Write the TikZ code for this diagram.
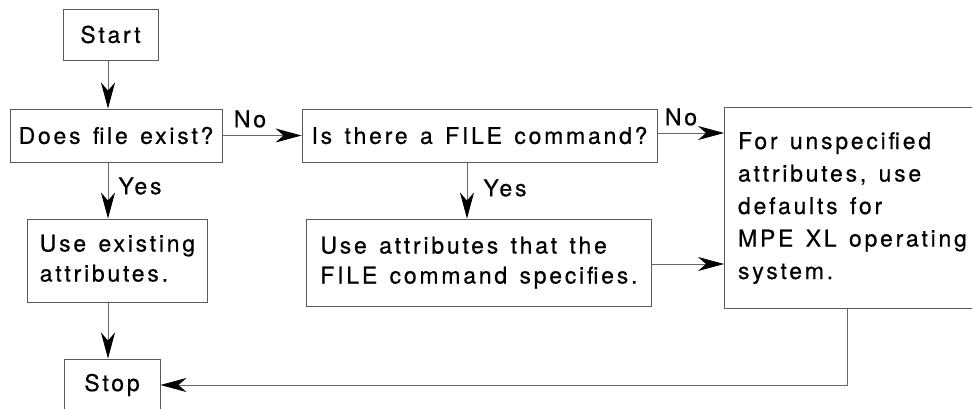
\documentclass[tikz,border=0pt]{standalone}
\usepackage{fontspec}
\setmainfont{TeX Gyre Heros}[LetterSpace=12,WordSpace=1.35,FakeBold=0.5]
\usetikzlibrary{arrows.meta,calc}
\newcommand{\mlines}[1]{\begin{tabular}{@{}l@{}}#1\end{tabular}}
\begin{document}
\begin{tikzpicture}[x=1pt,y=-1pt,
  box/.style={draw=black!65, line width=0.9pt, inner sep=0pt, font=\fontsize{23}{30}\selectfont},
  lbl/.style={inner sep=0pt, font=\fontsize{23}{25}\selectfont},
  conn/.style={draw=black!60, line width=0.8pt, -{Stealth[length=26pt,width=14pt,inset=8pt,black]}},
  plain/.style={draw=black!60, line width=0.8pt}]
\useasboundingbox (0,0) rectangle (972,408);
\node[box, minimum width=95pt, minimum height=51pt] (start) at (110.5,34.5) {Start};
\node[box, minimum width=212pt, minimum height=53pt] (does) at (116,135.5) {Does file exist?};
\node[box, minimum width=355pt, minimum height=53pt] (is) at (479.5,135.5) {Is there a FILE command?};
\node[box, minimum width=256pt, minimum height=201pt, inner xsep=13pt, anchor=west,
      font=\fontsize{23}{32.5}\selectfont] (right) at (724,207.5)
      {\mlines{For unspecified\\attributes, use\\defaults for\\MPE XL operating\\system.}\hspace{60pt}};
\node[box, minimum width=180pt, minimum height=83pt, inner xsep=11pt, anchor=west] (useex) at (27,260.5)
      {\mlines{Use existing\\attributes.}};
\node[box, minimum width=345pt, minimum height=87pt, inner xsep=10pt, anchor=west] (useattr) at (306,262.5)
      {\mlines{Use attributes that the\\FILE command specifies.}};
\node[box, minimum width=96pt, minimum height=52pt] (stop) at (112,385) {Stop};
\coordinate (c1) at (108,0);
\coordinate (c2) at (467,0);
\coordinate (c3) at (847,0);
\draw[conn] (start.south -| c1) -- (does.north -| c1);
\draw[conn] (does.south -| c1) -- (useex.north -| c1);
\draw[conn] (useex.south -| c1) -- (stop.north -| c1);
\draw[conn] (does.east) -- (is.west);
\draw[conn] ([yshift=2.5pt]is.east) -- ([yshift=2.5pt]is.east -| right.west);
\draw[conn] (is.south -| c2) -- (useattr.north -| c2);
\draw[conn] ([yshift=-1.5pt]useattr.east) -- ([yshift=-1.5pt]useattr.east -| right.west);
\draw[conn] (right.south -| c3) |- (stop.east);
\node[lbl] (no1) at (250,119) {No};
\node[lbl] (no2) at (681,117) {No};
\node[lbl] (yes1) at (140,186) {Yes};
\node[lbl] (yes2) at (505,188) {Yes};
\end{tikzpicture}
\end{document}
